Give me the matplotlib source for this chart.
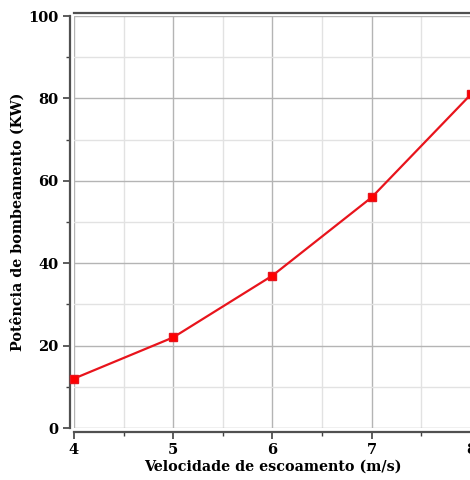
import matplotlib
matplotlib.use("Agg")
import matplotlib.pyplot as plt
from matplotlib.ticker import MultipleLocator

# velocidade (m/s) x potencia de bombeamento (kW)
velocidade = [4, 5, 6, 7, 8]
potencia = [12, 22, 37, 56, 81]

plt.rcParams['font.family'] = ['DejaVu Serif']
plt.rcParams['font.weight'] = 'bold'

fig = plt.figure(figsize=(4.7, 4.8), dpi=100)
ax = fig.add_axes([0.1574, 0.1083, 0.8447, 0.8583])

ax.plot(velocidade, potencia, color='#e8141c', lw=1.6, marker='s', ms=6,
        markerfacecolor='#ff0000', markeredgecolor='#e8141c', clip_on=False, zorder=3)

ax.set_xlim(4, 8)
ax.set_ylim(0, 100)
ax.xaxis.set_major_locator(MultipleLocator(1))
ax.xaxis.set_minor_locator(MultipleLocator(0.5))
ax.yaxis.set_major_locator(MultipleLocator(20))
ax.yaxis.set_minor_locator(MultipleLocator(10))

ax.grid(which='major', color='#b4b4b4', lw=1.0)
ax.grid(which='minor', color='#e2e2e2', lw=1.0)
ax.set_axisbelow(True)

for side in ['left', 'bottom']:
    ax.spines[side].set_position(('outward', 3))
    ax.spines[side].set_linewidth(1.6)
    ax.spines[side].set_color('#505050')
ax.spines['top'].set_position(('outward', 2))
ax.spines['top'].set_linewidth(1.6)
ax.spines['top'].set_color('#505050')
ax.spines['right'].set_visible(False)

ax.tick_params(which='major', length=5, width=1.2, color='#404040', labelsize=10.5, pad=3)
ax.tick_params(which='minor', length=3, width=1.0, color='#404040')

ax.set_xlabel('Velocidade de escoamento (m/s)', fontsize=10.3, fontweight='bold', labelpad=1.5)
ax.set_ylabel('Potência de bombeamento (KW)', fontsize=10.3, fontweight='bold', labelpad=3)

fig.savefig('out.png', dpi=100)
